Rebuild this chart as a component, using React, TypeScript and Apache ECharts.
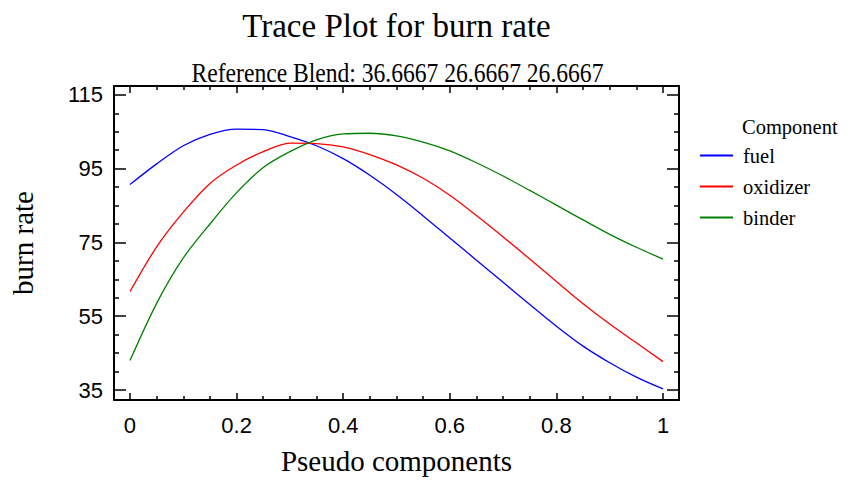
import React, { useEffect, useRef } from "react";
import * as echarts from "echarts";

const xs = [0, 0.05, 0.1, 0.15, 0.2, 0.25, 0.3, 0.35, 0.4, 0.45, 0.5, 0.55, 0.6, 0.65, 0.7, 0.75, 0.8, 0.85, 0.9, 0.95, 1];
const fuel = [90.7, 96.3, 101.2, 104.3, 105.7, 105.6, 103.7, 101.2, 97.7, 93.2, 88.0, 82.2, 76.2, 70.2, 64.2, 58.2, 52.3, 46.9, 42.4, 38.5, 35.3];
const oxidizer = [61.7, 73.8, 83.2, 91.0, 96.0, 99.6, 101.9, 101.8, 100.9, 98.8, 96.0, 92.4, 87.8, 82.3, 76.5, 70.5, 64.4, 58.4, 52.9, 47.8, 42.7];
const binder = [43.0, 58.5, 70.8, 80.0, 88.5, 95.3, 99.6, 102.8, 104.4, 104.6, 103.9, 102.2, 99.8, 96.6, 93.0, 89.1, 85.1, 81.1, 77.2, 73.7, 70.5];

const seriesNames = ["fuel", "oxidizer", "binder"];
const seriesColors = ["#0000ff", "#ff0000", "#008000"];

const xMajor = [0, 0.2, 0.4, 0.6, 0.8, 1];
const xMinor = [0.05, 0.1, 0.15, 0.25, 0.3, 0.35, 0.45, 0.5, 0.55, 0.65, 0.7, 0.75, 0.85, 0.9, 0.95];
const yMajor = [35, 55, 75, 95, 115];
const yMinor = [40, 45, 50, 60, 65, 70, 80, 85, 90, 100, 105, 110];

const titleText = "Trace Plot for burn rate";
const subtitleText = "Reference Blend: 36.6667 26.6667 26.6667";
const legendTitle = "Component";
const xName = "Pseudo components";
const yName = "burn rate";

const X_MIN = -0.03;
const X_MAX = 1.03;
const Y_MIN = 32.3;
const Y_MAX = 117.4;

const SERIF = "Liberation Serif";
const SANS = "Liberation Sans";

export default function App() {
  const ref = useRef<HTMLDivElement>(null);
  useEffect(() => {
    if (!ref.current) return;
    const chart = echarts.init(ref.current, undefined, { renderer: "svg" });
    const lineStyle = { color: "#000", width: 1.5 };
    const frame = { show: true, onZero: false, lineStyle: { color: "#000", width: 2 } };
    const hiddenLine = { show: false, onZero: false };
    const labelStyle = { fontSize: 22, fontFamily: SANS, color: "#000" };
    const nameStyle = { fontSize: 29, fontFamily: SERIF, color: "#000" };

    const mkX = (position: string, major: boolean, withLabel: boolean) => ({
      type: "value",
      position,
      min: X_MIN,
      max: X_MAX,
      axisLine: major ? frame : hiddenLine,
      axisTick: { show: true, inside: true, length: major ? 7 : 4, customValues: major ? xMajor : xMinor, lineStyle },
      axisLabel: withLabel
        ? { show: true, customValues: xMajor, margin: 14, ...labelStyle, formatter: (v: number) => String(v) }
        : { show: false },
      splitLine: { show: false },
      ...(withLabel ? { name: xName, nameLocation: "middle", nameGap: 46, nameTextStyle: nameStyle } : {}),
    });
    const mkY = (position: string, major: boolean, withLabel: boolean) => ({
      type: "value",
      position,
      min: Y_MIN,
      max: Y_MAX,
      axisLine: major ? frame : hiddenLine,
      axisTick: { show: true, inside: true, length: major ? 12 : 5, customValues: major ? yMajor : yMinor, lineStyle },
      axisLabel: withLabel
        ? { show: true, customValues: yMajor, margin: 11, ...labelStyle, formatter: (v: number) => String(v) }
        : { show: false },
      splitLine: { show: false },
      ...(withLabel ? { name: yName, nameLocation: "middle", nameGap: 77, nameTextStyle: nameStyle } : {}),
    });

    const datasets = [fuel, oxidizer, binder];

    chart.setOption({
      animation: false,
      backgroundColor: "#fff",
      grid: { left: 114, right: 169, top: 86, bottom: 75, containLabel: false },
      xAxis: [mkX("bottom", true, true), mkX("bottom", false, false), mkX("top", true, false), mkX("top", false, false)],
      yAxis: [mkY("left", true, true), mkY("left", false, false), mkY("right", true, false), mkY("right", false, false)],
      legend: {
        orient: "vertical",
        left: 695,
        top: 140,
        itemWidth: 33,
        itemHeight: 2,
        itemGap: 10,
        icon: "rect",
        data: seriesNames,
        textStyle: { fontSize: 20.5, fontFamily: SERIF, color: "#000", lineHeight: 20, padding: [0, 0, 0, 5] },
      },
      graphic: [
        {
          type: "text",
          x: 396.5,
          y: 9,
          style: { text: titleText, fontSize: 33, fontFamily: SERIF, fill: "#000", textAlign: "center", textVerticalAlign: "top", align: "center", verticalAlign: "top" },
        },
        {
          type: "text",
          x: 397.5,
          y: 60,
          scaleX: 0.89,
          style: { text: subtitleText, fontSize: 26.5, fontFamily: SERIF, fill: "#000", textAlign: "center", textVerticalAlign: "top", align: "center", verticalAlign: "top" },
        },
        {
          type: "text",
          x: 742,
          y: 116,
          style: { text: legendTitle, fontSize: 20.5, fontFamily: SERIF, fill: "#000", textAlign: "left", textVerticalAlign: "top", align: "left", verticalAlign: "top" },
        },
      ],
      series: seriesNames.map((name, i) => ({
        name,
        type: "line",
        xAxisIndex: 0,
        yAxisIndex: 0,
        data: xs.map((x, j) => [x, datasets[i][j]]),
        showSymbol: false,
        smooth: 0.3,
        color: seriesColors[i],
        lineStyle: { color: seriesColors[i], width: 1.3 },
      })),
    });
    return () => chart.dispose();
  }, []);
  return <div ref={ref} style={{ position: "absolute", left: 0, top: 0, width: 848, height: 480 }} />;
}
